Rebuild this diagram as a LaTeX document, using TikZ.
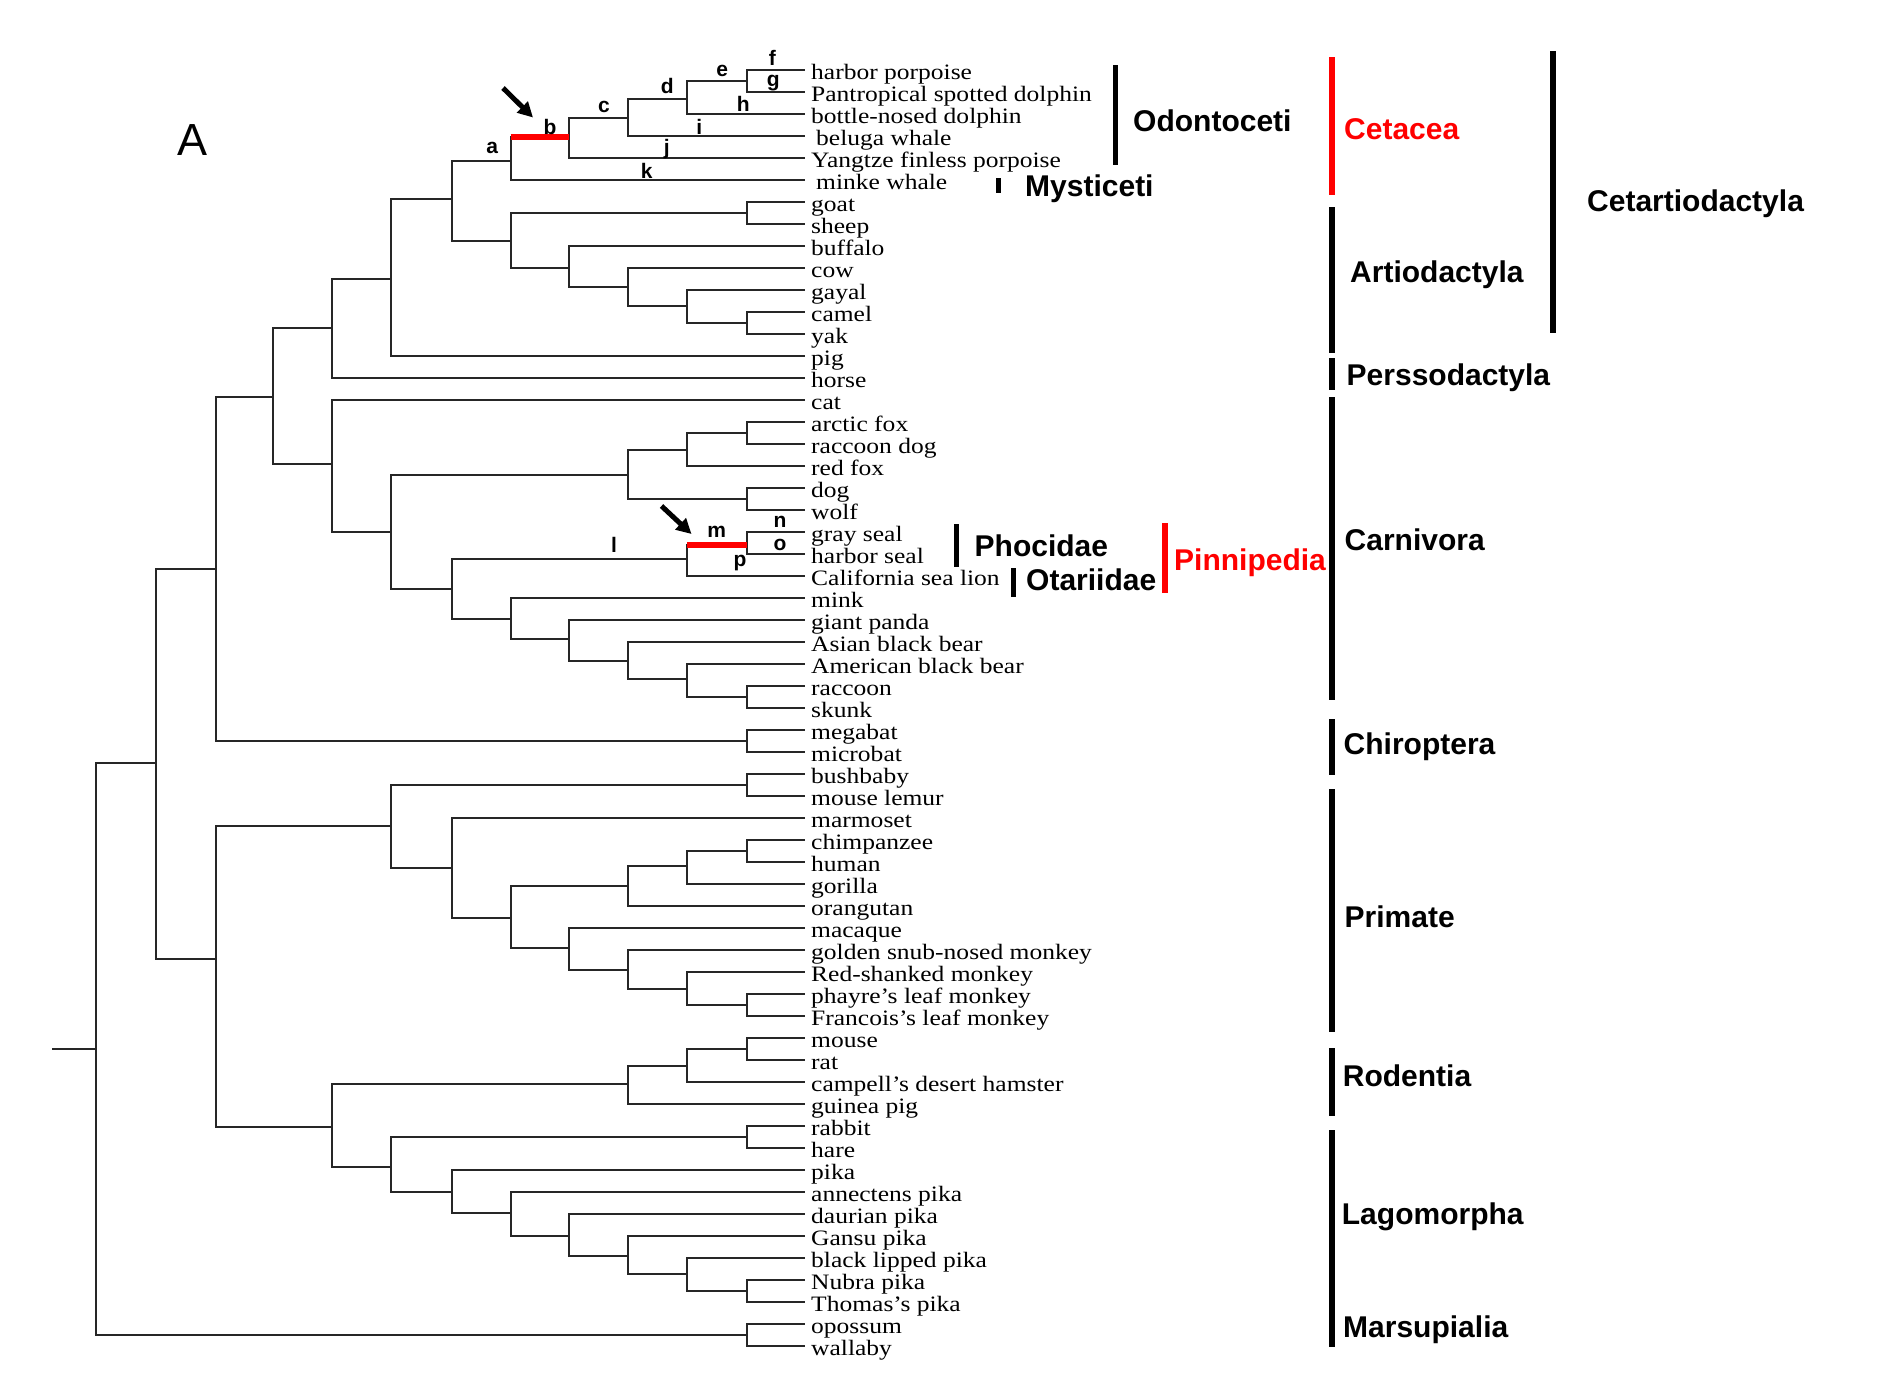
\documentclass[tikz,border=0pt]{standalone}
\usepackage{fontspec}
\setmainfont{Liberation Serif}
\newfontfamily\leaffont[FakeStretch=1.16]{Liberation Serif}
\newfontfamily\grpfont{Liberation Sans}
\usetikzlibrary{arrows.meta}
\tikzset{
  br/.style={line width=2pt, draw=black!85},
  redbr/.style={line width=5.5pt, draw=red},
  gbar/.style={line width=6pt, draw=black},
  rbar/.style={line width=6pt, draw=red},
  leaf/.style={anchor=base west, inner sep=0pt, font=\leaffont\fontsize{22}{24}\selectfont},
  grp/.style={anchor=base west, inner sep=0pt, font=\grpfont\bfseries\fontsize{30}{32}\selectfont},
  lab/.style={inner sep=0pt, font=\grpfont\bfseries\fontsize{21}{22}\selectfont},
  arr/.style={line width=5pt, -{Triangle[length=15pt,width=15pt]}}
}
\begin{document}
\begin{tikzpicture}[x=1pt,y=-1pt]
\useasboundingbox[fill=white] (0,0) rectangle (1882,1374);

% leaves
\foreach \t [count=\i] in {harbor porpoise,Pantropical spotted dolphin,bottle-nosed dolphin,beluga whale,Yangtze finless porpoise,minke whale,goat,sheep,buffalo,cow,gayal,camel,yak,pig,horse,cat,arctic fox,raccoon dog,red fox,dog,wolf,gray seal,harbor seal,California sea lion,mink,giant panda,Asian black bear,American black bear,raccoon,skunk,megabat,microbat,bushbaby,mouse lemur,marmoset,chimpanzee,human,gorilla,orangutan,macaque,golden snub-nosed monkey,Red-shanked monkey,phayre’s leaf monkey,Francois’s leaf monkey,mouse,rat,campell’s desert hamster,guinea pig,rabbit,hare,pika,annectens pika,daurian pika,Gansu pika,black lipped pika,Nubra pika,Thomas’s pika,opossum,wallaby}{
  \pgfmathsetmacro\dx{(\i==4||\i==6)?5:0}
  \coordinate (l\i) at (805,{70+22*(\i-1)});
  \node[leaf] (t\i) at ({811+\dx},{79+22*(\i-1)}) {\t};
}

% internal nodes
\coordinate (n11a) at (746.5,81);
\coordinate (n10a) at (687,99);
\coordinate (n9a) at (628,117.7);
\coordinate (n8a) at (569,137);
\coordinate (n7a) at (510.5,160.7);
\coordinate (n11b) at (746.5,213);
\coordinate (n11c) at (746.5,323);
\coordinate (n10c) at (687,306);
\coordinate (n9c) at (628,286.7);
\coordinate (n8c) at (569,267.7);
\coordinate (n7b) at (510.5,240.7);
\coordinate (n6a) at (451.5,199.3);
\coordinate (n5a) at (391,279);
\coordinate (n4a) at (332,328.3);
\coordinate (n3a) at (273,396.7);
\coordinate (n4b) at (332,464.3);
\coordinate (n5b) at (391,531.7);
\coordinate (n9b) at (628,475);
\coordinate (n10b) at (687,450);
\coordinate (n11d) at (746.5,433);
\coordinate (n11e) at (746.5,499);
\coordinate (n6b) at (451.5,588.7);
\coordinate (n10d) at (687,559);
\coordinate (n11f) at (746.5,545);
\coordinate (n7c) at (510.5,619);
\coordinate (n8d) at (569,639.3);
\coordinate (n9d) at (628,660.7);
\coordinate (n10e) at (687,679.3);
\coordinate (n11g) at (746.5,697);
\coordinate (n2a) at (215.5,569);
\coordinate (n11h) at (746.5,741);
\coordinate (n1a) at (155.5,763);
\coordinate (n2b) at (215.5,959.3);
\coordinate (n5c) at (391,826);
\coordinate (n11i) at (746.5,785);
\coordinate (n6c) at (451.5,868);
\coordinate (n7d) at (510.5,917.5);
\coordinate (n9e) at (628,886);
\coordinate (n10f) at (687,866);
\coordinate (n11j) at (746.5,851);
\coordinate (n8e) at (569,947.7);
\coordinate (n9f) at (628,969.6);
\coordinate (n10g) at (687,988.8);
\coordinate (n11k) at (746.5,1005);
\coordinate (n4c) at (332,1126.7);
\coordinate (n9g) at (628,1084);
\coordinate (n10h) at (687,1066);
\coordinate (n11l) at (746.5,1049);
\coordinate (n5d) at (391,1167);
\coordinate (n11m) at (746.5,1137);
\coordinate (n6d) at (451.5,1192);
\coordinate (n7e) at (510.5,1213);
\coordinate (n8f) at (569,1236);
\coordinate (n9h) at (628,1255.5);
\coordinate (n10i) at (687,1274);
\coordinate (n11n) at (746.5,1291);
\coordinate (n11o) at (746.5,1335);
\coordinate (n0) at (96,1049);
\coordinate (rt) at (52,1049);

% branches
\foreach \p/\c in {n11a/l1,n11a/l2,n10a/n11a,n10a/l3,n9a/n10a,n9a/l4,n8a/n9a,n8a/l5,n7a/n8a,n7a/l6,
 n11b/l7,n11b/l8,n11c/l12,n11c/l13,n10c/l11,n10c/n11c,n9c/l10,n9c/n10c,n8c/l9,n8c/n9c,n7b/n11b,n7b/n8c,
 n6a/n7a,n6a/n7b,n5a/n6a,n5a/l14,n4a/n5a,n4a/l15,n3a/n4a,n3a/n4b,
 n4b/l16,n4b/n5b,n5b/n9b,n5b/n6b,n9b/n10b,n9b/n11e,n10b/n11d,n10b/l19,n11d/l17,n11d/l18,n11e/l20,n11e/l21,
 n6b/n10d,n6b/n7c,n10d/n11f,n10d/l24,n11f/l22,n11f/l23,n7c/l25,n7c/n8d,n8d/l26,n8d/n9d,n9d/l27,n9d/n10e,n10e/l28,n10e/n11g,n11g/l29,n11g/l30,
 n2a/n3a,n2a/n11h,n11h/l31,n11h/l32,n1a/n2a,n1a/n2b,n2b/n5c,n2b/n4c,
 n5c/n11i,n5c/n6c,n11i/l33,n11i/l34,n6c/l35,n6c/n7d,n7d/n9e,n7d/n8e,n9e/n10f,n9e/l39,n10f/n11j,n10f/l38,n11j/l36,n11j/l37,n8e/l40,n8e/n9f,n9f/l41,n9f/n10g,n10g/l42,n10g/n11k,n11k/l43,n11k/l44,
 n4c/n9g,n4c/n5d,n9g/n10h,n9g/l48,n10h/n11l,n10h/l47,n11l/l45,n11l/l46,
 n5d/n11m,n5d/n6d,n11m/l49,n11m/l50,n6d/l51,n6d/n7e,n7e/l52,n7e/n8f,n8f/l53,n8f/n9h,n9h/l54,n9h/n10i,n10i/l55,n10i/n11n,n11n/l56,n11n/l57,
 n0/n1a,n0/n11o,n11o/l58,n11o/l59}
 { \draw[br] (\p) |- (\c); }
\draw[br] (rt) -- (n0);

% red branches
\draw[redbr] (n7a |- n8a) -- (n8a);
\draw[redbr] (n10d |- n11f) -- (n11f);

% branch labels
\node[lab] (la) at (492.3,148.3) {a};
\node[lab] (lb) at (550,127.3) {b};
\node[lab] (lc) at (604,106.7) {c};
\node[lab] (ld) at (667.3,85.7) {d};
\node[lab] (le) at (722.3,71) {e};
\node[lab] (lf) at (772.3,58.3) {f};
\node[lab] (lg) at (773.3,82.7) {g};
\node[lab] (lh) at (743.3,104) {h};
\node[lab] (li) at (699.3,127.3) {i};
\node[lab] (lj) at (666.7,149.3) {j};
\node[lab] (lk) at (646.7,170.7) {k};
\node[lab] (ll) at (614,545) {l};
\node[lab] (lm) at (716.7,531.7) {m};
\node[lab] (ln) at (780,521.7) {n};
\node[lab] (lo) at (780,545) {o};
\node[lab] (lp) at (740,563.3) {p};

% arrows
\coordinate (a1s) at (503,88);
\coordinate (a1e) at (533,117.5);
\coordinate (a2s) at (661.5,506);
\coordinate (a2e) at (691.5,534);
\draw[arr] (a1s) -- (a1e);
\draw[arr] (a2s) -- (a2e);

% panel letter
\node[anchor=base west, inner sep=0pt, font=\grpfont\fontsize{45}{48}\selectfont] (panel) at (177,155) {A};

% group bars
\coordinate (bOd1) at (1115,65);   \coordinate (bOd2) at (1115,165);
\coordinate (bMy1) at (998,178);   \coordinate (bMy2) at (998,193);
\coordinate (bCe1) at (1331.5,57); \coordinate (bCe2) at (1331.5,195);
\coordinate (bCa1) at (1553,51);   \coordinate (bCa2) at (1553,333);
\coordinate (bAr1) at (1331.5,207); \coordinate (bAr2) at (1331.5,353);
\coordinate (bPe1) at (1331.5,358); \coordinate (bPe2) at (1331.5,390);
\coordinate (bCr1) at (1331.5,397); \coordinate (bCr2) at (1331.5,700);
\coordinate (bCh1) at (1331.5,719); \coordinate (bCh2) at (1331.5,775);
\coordinate (bPr1) at (1331.5,789); \coordinate (bPr2) at (1331.5,1032);
\coordinate (bRo1) at (1331.5,1048); \coordinate (bRo2) at (1331.5,1116);
\coordinate (bLa1) at (1331.5,1130); \coordinate (bLa2) at (1331.5,1317);
\coordinate (bMa1) at (1331.5,1317); \coordinate (bMa2) at (1331.5,1347);
\coordinate (bPh1) at (956.7,524);  \coordinate (bPh2) at (956.7,566.7);
\coordinate (bOt1) at (1013.8,568); \coordinate (bOt2) at (1013.8,596.7);
\coordinate (bPi1) at (1165,523);   \coordinate (bPi2) at (1165,593);

\draw[gbar,line width=5pt] (bOd1) -- (bOd2);
\draw[gbar,line width=5pt] (bMy1) -- (bMy2);
\draw[rbar] (bCe1) -- (bCe2);
\draw[gbar] (bCa1) -- (bCa2);
\draw[gbar] (bAr1) -- (bAr2);
\draw[gbar] (bPe1) -- (bPe2);
\draw[gbar] (bCr1) -- (bCr2);
\draw[gbar] (bCh1) -- (bCh2);
\draw[gbar] (bPr1) -- (bPr2);
\draw[gbar] (bRo1) -- (bRo2);
\draw[gbar] (bLa1) -- (bLa2);
\draw[gbar] (bMa1) -- (bMa2);
\draw[gbar,line width=5pt] (bPh1) -- (bPh2);
\draw[gbar,line width=5pt] (bOt1) -- (bOt2);
\draw[rbar] (bPi1) -- (bPi2);

% group labels
\node[grp] (gOd) at (1133,131.7) {Odontoceti};
\node[grp] (gMy) at (1025,196) {Mysticeti};
\node[grp,text=red] (gCe) at (1344,139.3) {Cetacea};
\node[grp] (gCa) at (1587,211.7) {Cetartiodactyla};
\node[grp] (gAr) at (1350,282.7) {Artiodactyla};
\node[grp] (gPe) at (1346.5,385) {Perssodactyla};
\node[grp] (gCr) at (1344.5,550) {Carnivora};
\node[grp] (gCh) at (1343.5,754) {Chiroptera};
\node[grp] (gPr) at (1344.5,927) {Primate};
\node[grp] (gRo) at (1342.7,1086.5) {Rodentia};
\node[grp] (gLa) at (1341.7,1224) {Lagomorpha};
\node[grp] (gMa) at (1343,1337.3) {Marsupialia};
\node[grp] (gPh) at (974.5,556.7) {Phocidae};
\node[grp] (gOt) at (1026,590.7) {Otariidae};
\node[grp,text=red] (gPi) at (1174,570) {Pinnipedia};
\end{tikzpicture}
\end{document}
